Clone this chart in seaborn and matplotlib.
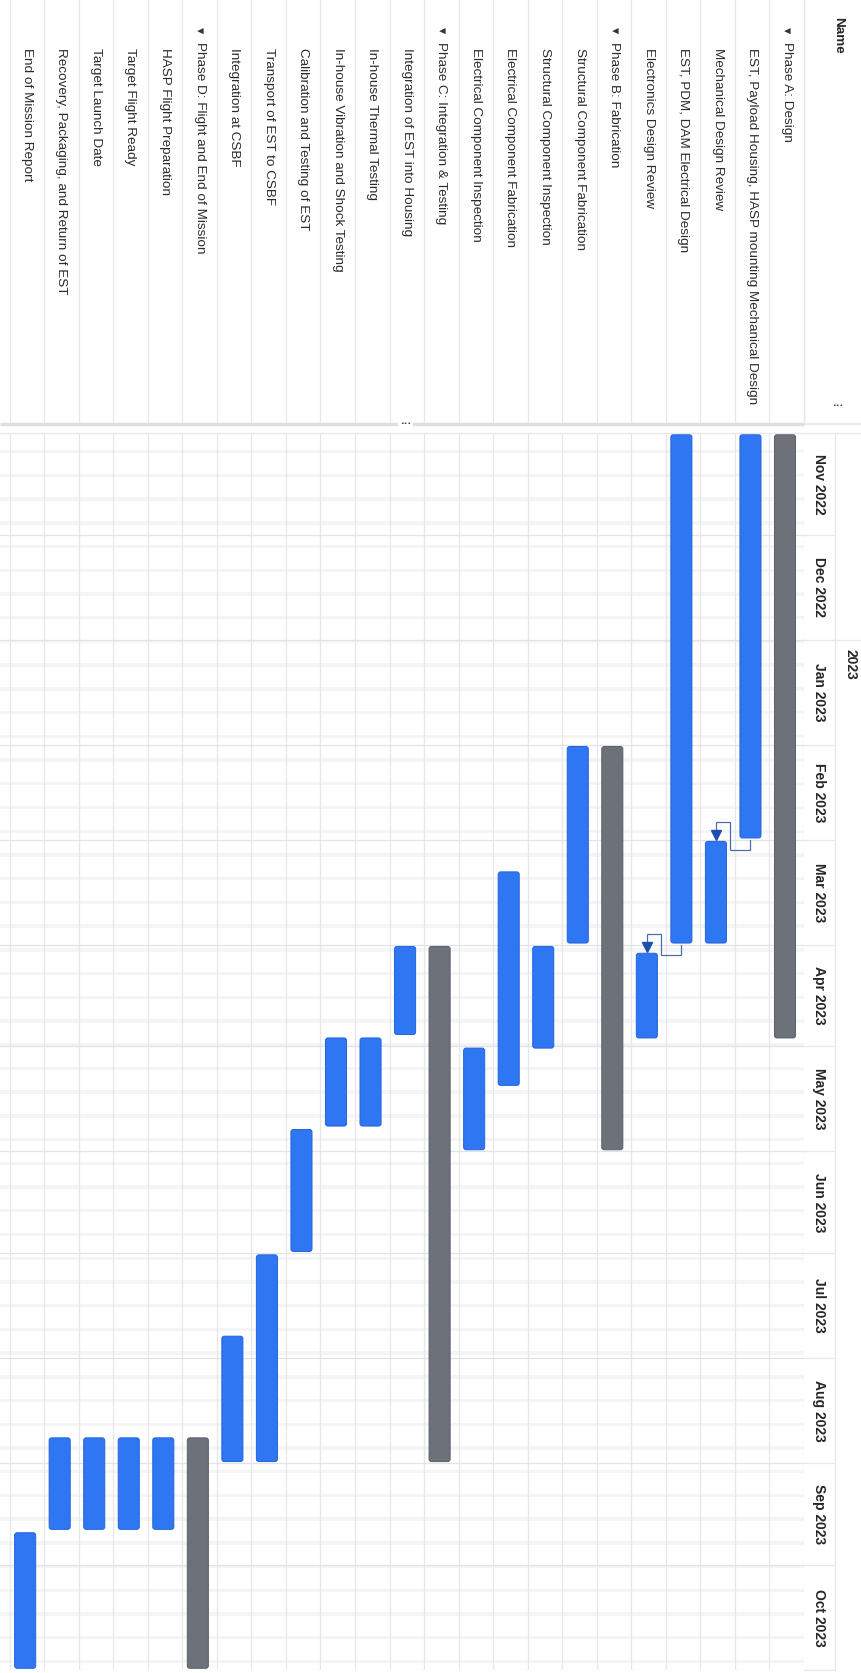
import datetime as dt
import numpy as np
import pandas as pd
import matplotlib
matplotlib.use("Agg")
import matplotlib.pyplot as plt
import matplotlib.dates as mdates
from matplotlib.patches import FancyBboxPatch
import seaborn as sns

# ---------------- data ----------------
task_names = [
    "Phase A: Design",
    "EST, Payload Housing, HASP mounting Mechanical Design",
    "Mechanical Design Review",
    "EST, PDM, DAM Electrical Design",
    "Electronics Design Review",
    "Phase B: Fabrication",
    "Structural Component Fabrication",
    "Structural Component Inspection",
    "Electrical Component Fabrication",
    "Electrical Component Inspection",
    "Phase C: Integration & Testing",
    "Integration of EST into Housing",
    "In-house Thermal Testing",
    "In-house Vibration and Shock Testing",
    "Calibration and Testing of EST",
    "Transport of EST to CSBF",
    "Integration at CSBF",
    "Phase D: Flight and End of Mission",
    "HASP Flight Preparation",
    "Target Flight Ready",
    "Target Launch Date",
    "Recovery, Packaging, and Return of EST",
    "End of Mission Report",
]
is_phase = [True, False, False, False, False,
            True, False, False, False, False,
            True, False, False, False, False, False, False,
            True, False, False, False, False, False]
start_dates = [
    "2022-11-01", "2022-11-01", "2023-03-01", "2022-11-01", "2023-04-03",
    "2023-02-01", "2023-02-01", "2023-04-01", "2023-03-10", "2023-05-01",
    "2023-04-01", "2023-04-01", "2023-04-28", "2023-04-28", "2023-05-25",
    "2023-07-01", "2023-07-25",
    "2023-08-24", "2023-08-24", "2023-08-24", "2023-08-24", "2023-08-24",
    "2023-09-21",
]
end_dates = [
    "2023-04-29", "2023-03-01", "2023-04-01", "2023-04-01", "2023-04-29",
    "2023-06-01", "2023-04-01", "2023-05-02", "2023-05-13", "2023-06-01",
    "2023-09-01", "2023-04-28", "2023-05-25", "2023-05-25", "2023-07-01",
    "2023-09-01", "2023-09-01",
    "2023-11-01", "2023-09-21", "2023-09-21", "2023-09-21", "2023-09-21",
    "2023-11-01",
]
month_starts = ["2022-11-01", "2022-12-01", "2023-01-01", "2023-02-01",
                "2023-03-01", "2023-04-01", "2023-05-01", "2023-06-01",
                "2023-07-01", "2023-08-01", "2023-09-01", "2023-10-01",
                "2023-11-01"]
month_labels = ["Nov 2022", "Dec 2022", "Jan 2023", "Feb 2023", "Mar 2023",
                "Apr 2023", "May 2023", "Jun 2023", "Jul 2023", "Aug 2023",
                "Sep 2023", "Oct 2023"]
year_label = "2023"
year_start = "2023-01-01"
header_label = "Name"
dependencies = [
    ("EST, Payload Housing, HASP mounting Mechanical Design", "Mechanical Design Review"),
    ("EST, PDM, DAM Electrical Design", "Electronics Design Review"),
]

# ---------------- style ----------------
sns.set_theme(style="white")
plt.rcParams['font.family'] = ['Liberation Sans', 'DejaVu Sans']

BLUE, BLUE_EDGE = "#2F76F3", "#2463D8"
GRAY, GRAY_EDGE = "#6C717A", "#5A5F67"
GRID = "#E5E7EB"
STRIPE = "#F4F5F7"
TEXT = "#2B2B2B"
LINK = "#4A6CB0"
ARROW = "#1F4FAE"

W, H = 862, 1673
ROW_LEFT, ROW_W = 9.6, 34.54
GANTT_RIGHT, MONTH_RIGHT = 804, 835
TOP, BOTTOM = 433, 1670
SEP_Y = 423.5
BAR_W = 0.61
BAR_SHIFT = -0.05
INSET = 0.5  # days

df = pd.DataFrame({
    "task": task_names,
    "phase": is_phase,
    "start": pd.to_datetime(start_dates),
    "end": pd.to_datetime(end_dates),
})
n = len(df)
df["row"] = n - 1 - np.arange(n)
df["s"] = mdates.date2num(df["start"])
df["e"] = mdates.date2num(df["end"])

fig = plt.figure(figsize=(W / 100, H / 100), dpi=100)
fig.patch.set_facecolor("white")

ax = fig.add_axes([0, (H - BOTTOM) / H, GANTT_RIGHT / W, (BOTTOM - TOP) / H])
x_left = -0.5 - ROW_LEFT / ROW_W
ax.set_xlim(x_left, n - 0.5)
ms = mdates.date2num(pd.to_datetime(month_starts))
ax.set_ylim(ms[-1], ms[0])
ax.axis("off")

# weekly stripes (Sundays)
sundays = pd.date_range(month_starts[0], month_starts[-1], freq="W-SUN")
for d in mdates.date2num(sundays):
    ax.axhspan(d, d + 1, color=STRIPE, lw=0, zorder=0)

# grid
for i in range(n + 1):
    ax.axvline(i - 0.5, color=GRID, lw=0.9, zorder=1)
for d in ms[1:]:
    ax.axhline(d, color="#E1E3E7", lw=0.9, zorder=1)

# bars
colors = [GRAY if p else BLUE for p in df["phase"]]
edges = [GRAY_EDGE if p else BLUE_EDGE for p in df["phase"]]
bars = ax.bar(df["row"] + BAR_SHIFT, df["e"] - df["s"] - 2 * INSET,
              width=BAR_W, bottom=df["s"] + INSET, color=colors, zorder=2)
px_per_day = (BOTTOM - TOP) / (ms[-1] - ms[0])
r_x = 2.5 / ROW_W
asp = (2.5 / px_per_day) / r_x
for rect, c, ec in zip(bars.patches, colors, edges):
    rect.set_visible(False)
    fb = FancyBboxPatch((rect.get_x(), rect.get_y()), rect.get_width(), rect.get_height(),
                        boxstyle=f"round,pad=0,rounding_size={r_x}",
                        mutation_aspect=asp, fc=c, ec=ec, lw=0.7, zorder=3)
    ax.add_patch(fb)

# dependency connectors
idx = {t: i for i, t in enumerate(df["task"])}
for a, b in dependencies:
    pa, pb = df.iloc[idx[a]], df.iloc[idx[b]]
    xa = pa["row"] + BAR_SHIFT
    xb = pb["row"] + BAR_SHIFT
    E, S = pa["e"], pb["s"]
    xs = [xa, xa, pa["row"] - 0.63, pa["row"] - 0.63, xb, xb]
    ys = [E, E + 3.0, E + 3.0, S - 5.3, S - 5.3, S - 1.0]
    ax.plot(xs, ys, color=LINK, lw=0.9, zorder=4, solid_joinstyle="miter")
    ax.plot([xb], [S - 1.3], marker="v", ms=6.5, color=ARROW, mec=ARROW, zorder=5)

# month header column
x_mc = (0.5 * (GANTT_RIGHT + MONTH_RIGHT) - ROW_LEFT) / ROW_W - 0.5
x_mr = (MONTH_RIGHT - ROW_LEFT) / ROW_W - 0.5
x_yc = (0.5 * (MONTH_RIGHT + W) - ROW_LEFT) / ROW_W - 0.5 + 0.05
x_end = (W - ROW_LEFT) / ROW_W - 0.5
for d in ms[1:]:
    ax.plot([n - 0.5, x_mr], [d, d], color=GRID, lw=0.9, clip_on=False)
ax.plot([x_mr, x_mr], [ms[0], ms[-1]], color=GRID, lw=0.9, clip_on=False)
for lab, a, b in zip(month_labels, ms[:-1], ms[1:]):
    ax.text(x_mc, (a + b) / 2, lab, rotation=-90, rotation_mode="anchor",
            ha="center", va="center", fontsize=10, fontweight="bold",
            color="#262626", clip_on=False)
ys_ = mdates.date2num(pd.Timestamp(year_start))
ax.plot([x_mr, x_end], [ys_, ys_], color=GRID, lw=0.9, clip_on=False)
ax.text(x_yc, ys_ + 2.6, year_label, rotation=-90, rotation_mode="anchor",
        ha="left", va="center", fontsize=10, fontweight="bold",
        color="#262626", clip_on=False)

# ---------------- name panel (overlay in pixel coords) ----------------
ox = fig.add_axes([0, 0, 1, 1], zorder=10)
ox.set_xlim(0, W)
ox.set_ylim(H, 0)
ox.axis("off")
ox.patch.set_alpha(0)

for i in range(n + 1):
    x = ROW_LEFT + i * ROW_W
    ox.plot([x, x], [0, SEP_Y], color=GRID, lw=0.9)
ox.plot([GANTT_RIGHT, GANTT_RIGHT], [0, SEP_Y], color=GRID, lw=0.9)

for _, r in df.iterrows():
    xc = ROW_LEFT + (r["row"] + 0.5) * ROW_W
    if r["phase"]:
        ox.text(xc, 30.5, "\u25BE", rotation=-90, rotation_mode="anchor",
                ha="center", va="center", fontsize=9, color="#333333",
                family=["DejaVu Sans"])
        ox.text(xc, 41.5, r["task"], rotation=-90, rotation_mode="anchor",
                ha="left", va="center", fontsize=9.7, color=TEXT)
    else:
        ox.text(xc, 47.5, r["task"], rotation=-90, rotation_mode="anchor",
                ha="left", va="center", fontsize=9.7, color=TEXT)

ox.text(838, 17, header_label, rotation=-90, rotation_mode="anchor",
        ha="left", va="center", fontsize=9.7, fontweight="bold", color="#262626")
ox.text(838, 405, "\u2022\u2022\u2022", ha="center", va="center",
        fontsize=4.5, color="#333333", family=["DejaVu Sans"])

# separator between name panel and timeline
ox.plot([0, GANTT_RIGHT], [SEP_Y, SEP_Y], color="#DCDEE2", lw=2.4, solid_capstyle="butt")
ox.plot([GANTT_RIGHT, W], [SEP_Y, SEP_Y], color="#E3E5E8", lw=1.2, solid_capstyle="butt")
ox.plot([0, W], [TOP - 0.5, TOP - 0.5], color="#E6E7EA", lw=0.9)
ox.text(406, SEP_Y, "\u2022\u2022\u2022", ha="center", va="center", fontsize=4.5,
        color="#333333", family=["DejaVu Sans"],
        bbox=dict(boxstyle="square,pad=0.3", fc="white", ec="none"))

fig.savefig("out.png", dpi=100, facecolor="white")
